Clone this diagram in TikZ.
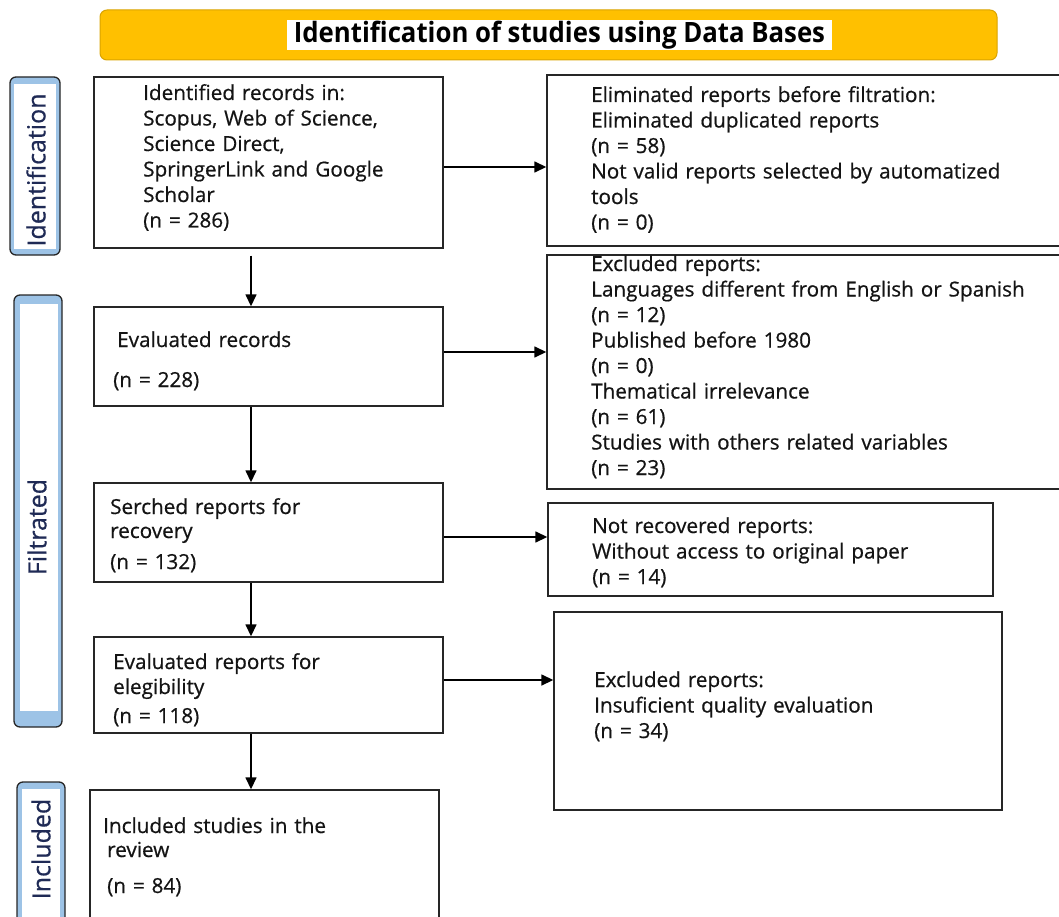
\documentclass[tikz,border=0pt]{standalone}
\usepackage{fontspec}
\usepackage{graphicx}
\setmainfont{Open Sans}
\newfontfamily\bodyfont[FakeBold=0.6]{Open Sans}
\usetikzlibrary{arrows.meta,calc}
\definecolor{gold}{HTML}{FFC000}
\definecolor{goldedge}{HTML}{D9A300}
\definecolor{sideblue}{HTML}{9DC3E6}
\definecolor{edge}{HTML}{262626}
\definecolor{labtxt}{HTML}{1F2A55}
\definecolor{bodytxt}{HTML}{141414}
\begin{document}
\begin{tikzpicture}[x=1pt,y=-1pt,
  box/.style={draw=edge,line width=1.4pt,fill=white,inner sep=0pt},
  txt/.style={anchor=base west,inner sep=0pt,text width=520pt,align=left,
    font=\bodyfont\fontsize{20.7}{25.5}\selectfont,text=bodytxt},
  arr/.style={draw=black,line width=1.5pt,-{Triangle[length=12pt,width=11pt]}},
  side/.style={draw=edge,fill=sideblue,line width=1.3pt,rounded corners=6pt,inner sep=0pt},
  sidetxt/.style={rotate=90,inner sep=0pt,text=labtxt,font=\bodyfont\fontsize{25}{28}\selectfont}]
\useasboundingbox (0,0) rectangle (1059,917);

% title bar
\node[draw=goldedge,fill=gold,line width=1pt,rounded corners=7pt,
  minimum width=897pt,minimum height=50pt,inner sep=0pt] (bar) at (548.5,35) {};
\node[fill=white,minimum width=545pt,minimum height=30pt,inner sep=0pt,
  font=\fontsize{28}{30}\bfseries] (title) at (559.5,35)
  {\scalebox{0.92}[1]{Identification of studies using Data Bases}};

% side labels
\node[side,minimum width=50pt,minimum height=178pt] (sid) at (35,166) {};
\fill[white] ($(sid.north west)+(5,8)$) rectangle ($(sid.south east)+(-5,-7)$);
\node[sidetxt] (lid) at (36,170) {Identification};

\node[side,minimum width=48pt,minimum height=432pt] (sfi) at (38,511) {};
\fill[white] ($(sfi.north west)+(7,10)$) rectangle ($(sfi.south east)+(-5,-17)$);
\node[sidetxt] (lfi) at (37,527) {Filtrated};

\node[side,minimum width=48pt,minimum height=170pt] (sin) at (41,867) {};
\fill[white] ($(sin.north west)+(6,8)$) rectangle ($(sin.south east)+(-6,-8)$);
\node[sidetxt] (lin) at (41,849) {Included};

% main boxes
\node[box,minimum width=349pt,minimum height=171pt] (b1) at (268.5,162.5) {};
\node[box,minimum width=349pt,minimum height=99pt] (b2) at (268.5,356.5) {};
\node[box,minimum width=349pt,minimum height=99pt] (b3) at (268.5,532.5) {};
\node[box,minimum width=349pt,minimum height=96pt] (b4) at (268.5,685) {};
\node[box,minimum width=349pt,minimum height=140pt] (b5) at (264.5,860) {};

\node[box,minimum width=515pt,minimum height=171pt] (r1) at (804.5,160.5) {};
\node[box,minimum width=515pt,minimum height=234pt] (r2) at (804.5,372) {};
\node[box,minimum width=445pt,minimum height=93pt] (r3) at (770.5,549.5) {};
\node[box,minimum width=448pt,minimum height=198pt] (r4) at (778,711) {};

% texts
\node[txt] (t1) at (143,100) {Identified records in:\\Scopus, Web of Science,\\Science Direct,\\SpringerLink and Google\\Scholar\\(n = 286)};
\node[txt] (t2) at (117,347) {Evaluated records\\[14.5pt]\hspace*{-4pt}(n = 228)};
\node[txt] (t3) at (110,514) {Serched reports for\\[-1.5pt]recovery\\[5.5pt](n = 132)};
\node[txt] (t4) at (113,669) {Evaluated reports for\\[-0.5pt]elegibility\\[3.5pt](n = 118)};
\node[txt] (t5) at (103,833) {Included studies in the\\[-1.5pt]\hspace*{4pt}review\\[10.5pt]\hspace*{4pt}(n = 84)};

\node[txt] (tr1) at (591,102) {Eliminated reports before filtration:\\Eliminated duplicated reports\\(n = 58)\\Not valid reports selected by automatized\\tools\\(n = 0)};
\node[txt] (tr2) at (591,271) {Excluded reports:\\Languages different from English or Spanish\\(n = 12)\\Published before 1980\\(n = 0)\\Thematical irrelevance\\(n = 61)\\Studies with others related variables\\(n = 23)};
\node[txt] (tr3) at (592,533) {Not recovered reports:\\Without access to original paper\\(n = 14)};
\node[txt] (tr4) at (594,687) {Excluded reports:\\Insuficient quality evaluation\\(n = 34)};

% connectors
\coordinate (ax) at (251,0);
\coordinate (h1) at (0,167);
\coordinate (h2) at (0,352);
\coordinate (h3) at (0,537);
\coordinate (h4) at (0,680);
\draw[arr] ([yshift=-7pt]b1.south -| ax) -- (b2.north -| ax);
\draw[arr] (b2.south -| ax) -- (b3.north -| ax);
\draw[arr] (b3.south -| ax) -- (b4.north -| ax);
\draw[arr] (b4.south -| ax) -- (b5.north -| ax);
\draw[arr] (b1.east |- h1) -- (r1.west |- h1);
\draw[arr] (b2.east |- h2) -- (r2.west |- h2);
\draw[arr] (b3.east |- h3) -- (r3.west |- h3);
\draw[arr] (b4.east |- h4) -- (r4.west |- h4);
\end{tikzpicture}
\end{document}
